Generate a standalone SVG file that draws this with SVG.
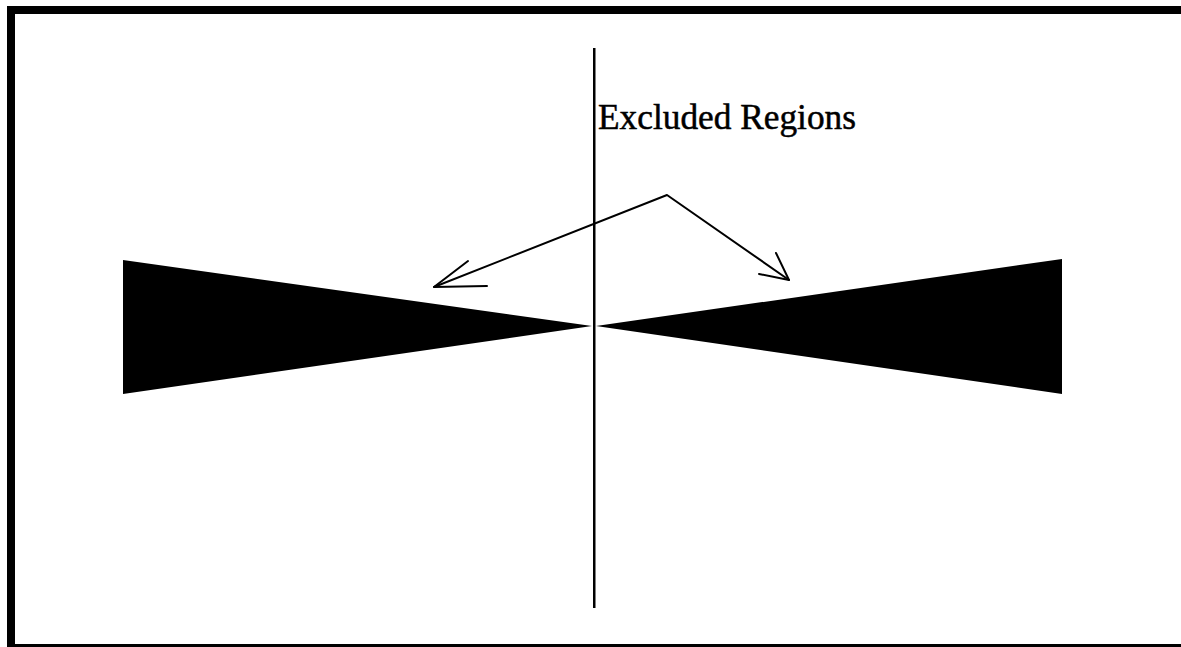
<svg xmlns="http://www.w3.org/2000/svg" width="1181" height="647" viewBox="0 0 1181 647">
<style>
.ln{stroke:#000;stroke-width:2;fill:none;stroke-linecap:round;stroke-linejoin:round}
.fill{fill:#000}
.lbl{font-family:"Liberation Serif","Times New Roman",serif;font-size:35px;fill:#000;stroke:#000;stroke-width:0.5}
</style>
<rect width="1181" height="647" fill="#fff"/>
<g id="frame">
<rect x="7" y="6" width="1174" height="8" class="fill"/>
<rect x="7" y="6" width="8" height="641" class="fill"/>
<rect x="7" y="644" width="1174" height="3" class="fill"/>
</g>
<g id="axis">
<rect x="593" y="48" width="2.5" height="560" class="fill"/>
</g>
<g id="left-region">
<polygon points="123,260 592,326 123,394" class="fill"/>
</g>
<g id="right-region">
<polygon points="1062,259 596,326 1062,394" class="fill"/>
</g>
<g id="label">
<text x="598" y="129" class="lbl" textLength="258" lengthAdjust="spacingAndGlyphs">Excluded Regions</text>
</g>
<g id="connectors">
<polyline points="434,287 667,195 789,280" class="ln"/>
<polyline points="468,261 434,287 487,286" class="ln"/>
<polyline points="776,253 789,280 759,274" class="ln"/>
</g>
</svg>
